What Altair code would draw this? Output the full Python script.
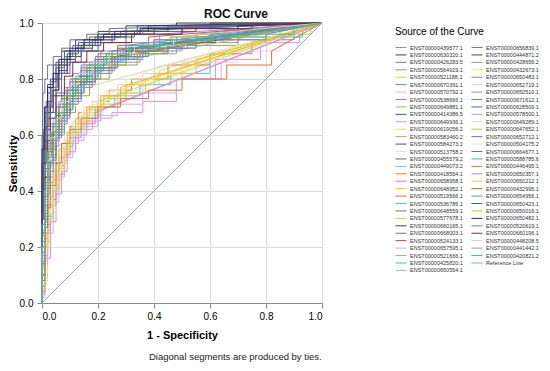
import altair as alt
import pandas as pd

TITLE = "ROC Curve"
X_TITLE = "1 - Specificity"
Y_TITLE = "Sensitivity"
LEGEND_TITLE = "Source of the Curve"
FOOTNOTE = "Diagonal segments are produced by ties."
TICKS = [0.0, 0.2, 0.4, 0.6, 0.8, 1.0]

NAMES_COL1 = [
    "ENST00000439577.1", "ENST00000630320.1", "ENST00000426283.5", "ENST00000564919.1",
    "ENST00000521188.1", "ENST00000670391.1", "ENST00000570792.1", "ENST00000538666.1",
    "ENST00000649881.1", "ENST00000414386.5", "ENST00000649936.1", "ENST00000619056.2",
    "ENST00000583460.2", "ENST00000584273.1", "ENST00000513758.2", "ENST00000455579.2",
    "ENST00000449073.2", "ENST00000418554.1", "ENST00000658958.1", "ENST00000648952.1",
    "ENST00000519566.1", "ENST00000536786.1", "ENST00000648559.1", "ENST00000577678.1",
    "ENST00000660165.1", "ENST00000668003.1", "ENST00000524133.1", "ENST00000657595.1",
    "ENST00000521666.1", "ENST00000425820.1", "ENST00000650554.1",
]
NAMES_COL2 = [
    "ENST00000656839.1", "ENST00000444871.2", "ENST00000428656.2", "ENST00000432673.1",
    "ENST00000650483.1", "ENST00000652719.1", "ENST00000650510.1", "ENST00000671612.1",
    "ENST00000628509.1", "ENST00000578500.1", "ENST00000649289.1", "ENST00000647652.1",
    "ENST00000652712.1", "ENST00000504175.2", "ENST00000664677.1", "ENST00000588785.6",
    "ENST00000446495.1", "ENST00000650357.1", "ENST00000650212.1", "ENST00000432995.1",
    "ENST00000654956.1", "ENST00000650423.1", "ENST00000650016.1", "ENST00000650482.1",
    "ENST00000520619.1", "ENST00000660196.1", "ENST00000448208.5", "ENST00000441442.1",
    "ENST00000420821.2",
]
REF_NAME = "Reference Line"

COLORS_COL1 = [
    "#7f8fe8", "#4a4040", "#8a7a66", "#a09a30", "#c8e040", "#4f8fc0", "#f5b0d8", "#a070e0",
    "#80c860", "#4050b0", "#e090e0", "#e0d880", "#c0a050", "#604090", "#c8f0f0", "#606868",
    "#50d8d0", "#e08030", "#f070d0", "#e8d030", "#e07050", "#50c8f8", "#707850", "#f0c030",
    "#303878", "#707088", "#a05040", "#d0b0f8", "#a8a8a8", "#30c8b0", "#90c0f8",
]
COLORS_COL2 = [
    "#c06060", "#405040", "#a0a060", "#f0f060", "#6090d0", "#f8c8e4", "#9080e8", "#50b040",
    "#6060c0", "#e090c8", "#d8d8a0", "#d0b860", "#8060b0", "#e4e4d0", "#707070", "#40b8a0",
    "#e07040", "#b080f0", "#f0c840", "#907030", "#40a0d8", "#506050", "#e0b830", "#202880",
    "#808098", "#803030", "#d0d0d0", "#989898", "#40c080",
]
REF_COLOR = "#7fa8d8"

# each token "x:y" = at 1-specificity x the curve rises to sensitivity y;
# a leading "d" marks a diagonal (tied) segment
CURVES_COL1 = [
    "0:.15 .01:.35 .02:.48 .03:.56 .05:.63 .07:.7 .1:.76 .14:.81 .2:.86 .28:.9 .4:.93 .6:.96 d1:1",
    "0:.4 .005:.6 .01:.7 .02:.78 .04:.85 .07:.9 .12:.94 .2:.97 .3:.99 .48:1",
    "0:.2 .01:.38 .02:.5 .04:.6 .06:.67 .09:.73 .13:.79 .18:.84 .25:.88 .35:.91 d1:1",
    "0:.1 .01:.3 .02:.43 .03:.53 .05:.62 .08:.69 .11:.75 .15:.8 .21:.85 .3:.89 .45:.93 .7:.96 d1:1",
    "0:.05 .01:.2 .02:.3 .03:.38 .04:.45 .06:.52 .08:.58 .11:.63 .15:.68 .2:.72 d1:1",
    "0:.25 .01:.42 .02:.53 .03:.6 .05:.67 .07:.73 .1:.78 .14:.83 .2:.87 .29:.9 d1:1",
    "0:.1 .01:.22 .02:.32 .04:.41 .06:.49 .08:.56 .11:.62 .15:.67 .2:.71 .27:.75 .36:.79 d1:1",
    "0:.12 .01:.33 .02:.45 .04:.56 .06:.64 .09:.71 .12:.77 .17:.82 .24:.87 .33:.91 .5:.94 .9:.97 d1:1",
    "0:.3 .01:.46 .02:.56 .03:.63 .05:.7 .08:.76 .12:.81 .17:.86 .24:.9 .36:.93 .55:.96 d1:1",
    "0:.5 .01:.68 .02:.75 .03:.8 .05:.86 .08:.9 .13:.93 .2:.96 .34:.99 d1:1",
    "0:.03 .01:.15 .02:.26 .03:.35 .05:.44 .07:.51 .09:.57 .13:.62 .18:.66 .25:.68 .36:.72 .48:.8 .62:.87 .78:.93 .92:.97 d1:1",
    "0:.08 .02:.25 .03:.35 .05:.44 .07:.52 .1:.59 .13:.64 .17:.69 .22:.73 .3:.78 .42:.83 d1:1",
    "0:.18 .01:.36 .02:.48 .03:.57 .05:.65 .08:.72 .12:.78 .16:.83 .22:.87 d1:1",
    "0:.3 .01:.55 .02:.66 .03:.74 .05:.8 .07:.85 .1:.9 .15:.93 .25:.96 .4:.98 d1:1",
    "0:.05 .01:.18 .02:.3 .04:.4 .06:.48 .08:.55 .12:.61 .16:.66 .22:.7 .28:.74 d1:1",
    "0:.45 .005:.62 .015:.72 .03:.79 .05:.84 .08:.88 .11:.92 .17:.95 .28:.97 d1:1",
    "0:.08 .01:.28 .02:.42 .03:.52 .05:.6 .07:.67 .1:.73 .13:.79 .18:.84 .25:.88 .36:.92 .55:.95 .85:.97 d1:1",
    "0:.12 .01:.25 .02:.35 .03:.43 .05:.5 .07:.57 .1:.63 .13:.68 .18:.72 .24:.76 .32:.8 .45:.85 .6:.89 .75:.93 d1:1",
    "0:.04 .01:.17 .02:.28 .03:.37 .05:.46 .08:.53 .1:.59 .14:.64 .19:.68 d1:1",
    "0:.09 .01:.22 .03:.33 .04:.42 .06:.5 .09:.57 .12:.62 .16:.67 .21:.71 .28:.75 .37:.8 .5:.85 d1:1",
    "0:.22 .01:.4 .02:.52 .035:.61 .05:.68 .08:.74 .11:.8 .16:.85 .23:.89 .32:.92 .48:.95 d1:1",
    "0:.06 .01:.2 .02:.31 .04:.41 .06:.49 .08:.56 .11:.61 .14:.66 .19:.7 .26:.74 .35:.78 .46:.82 .6:.87 d1:1",
    "0:.14 .01:.32 .02:.45 .03:.55 .05:.62 .07:.68 .1:.74 .14:.79 .19:.84 .26:.88 d1:1",
    "0:.1 .01:.24 .02:.34 .04:.44 .06:.52 .09:.58 .12:.64 .16:.69 .22:.73 .3:.77 d1:1",
    "0:.2 .01:.5 .02:.62 .03:.7 .04:.76 .06:.82 .09:.87 .12:.91 .18:.94 .26:.97 .38:.99 d1:1",
    "0:.6 .003:.75 .01:.8 .02:.85 .04:.88 .07:.91 .1:.94 .16:.96 .24:.98 d1:1",
    "0:.28 .01:.45 .02:.55 .04:.64 .06:.71 .09:.77 .13:.82 .19:.87 .27:.91 .4:.94 .65:.97 d1:1",
    "0:.02 .01:.14 .02:.25 .04:.36 .06:.45 .08:.52 .11:.58 .15:.63 .2:.67 .27:.71 .36:.75 .48:.8 .64:.86 d1:1",
    "0:.1 .01:.27 .02:.4 .03:.5 .04:.58 .06:.65 .09:.72 .13:.78 .18:.83 .25:.87 .34:.9 .5:.93 d1:1",
    "0:.2 .01:.37 .02:.49 .04:.59 .06:.66 .08:.72 .11:.77 .15:.82 .21:.86 .3:.9 .42:.93 .6:.95 .93:.97 d1:1",
    "0:.16 .01:.34 .02:.46 .03:.55 .05:.63 .08:.7 .11:.76 .15:.81 .2:.85 d1:1",
]
CURVES_COL2 = [
    "0:.24 .01:.41 .02:.52 .03:.6 .05:.67 .07:.73 .1:.79 .14:.84 .19:.88 .27:.92 .38:.95 d1:1",
    "0:.35 .01:.58 .02:.68 .04:.76 .06:.83 .09:.88 .14:.92 .21:.95 .3:.97 .45:.99 .6:1",
    "0:.12 .01:.3 .02:.43 .03:.52 .05:.6 .08:.68 .12:.74 .17:.8 .24:.85 .34:.89 .48:.92 .7:.95 d1:1",
    "0:.07 .01:.21 .02:.32 .03:.41 .05:.49 .07:.56 .1:.62 .14:.67 .18:.71 .24:.75 d1:1",
    "0:.3 .01:.47 .02:.57 .03:.64 .05:.7 .07:.75 .1:.8 .14:.85 .2:.89 .3:.92 d1:1",
    "0:.12 .01:.26 .02:.37 .04:.46 .06:.54 .08:.6 .11:.65 .15:.7 .2:.74 .27:.78 .36:.82 .5:.86 .7:.9 .85:.94 d1:1",
    "0:.06 .01:.25 .02:.39 .03:.5 .05:.59 .07:.66 .1:.72 .14:.78 .19:.83 .26:.87 .36:.91 .52:.94 d1:1",
    "0:.18 .01:.38 .02:.5 .04:.6 .06:.68 .09:.74 .12:.79 .16:.84 .22:.88 .32:.92 .46:.95 .72:.97 d1:1",
    "0:.25 .01:.48 .02:.6 .03:.68 .05:.75 .07:.82 .1:.86 .14:.9 .2:.93 .3:.96 .5:.98 d1:1",
    "0:.04 .01:.16 .03:.29 .05:.39 .07:.47 .09:.54 .12:.6 .16:.65 .21:.69 d1:1",
    "0:.2 .01:.36 .02:.47 .03:.56 .05:.64 .08:.7 .12:.76 d1:1",
    "0:.15 .01:.33 .02:.46 .03:.56 .05:.64 .07:.7 .1:.75 .13:.8 .18:.85 .25:.89 .35:.92 .5:.95 .88:.96 .96:.98 d1:1",
    "0:.4 .01:.6 .02:.7 .035:.77 .055:.82 .08:.86 .12:.9 .18:.94 .26:.96 .36:.98 d1:1",
    "0:.08 .01:.21 .02:.33 .04:.43 .06:.51 .08:.58 .11:.63 .14:.68 .18:.72 .23:.76 .3:.8 .4:.84 d1:1",
    "0:.26 .01:.43 .02:.54 .04:.63 .06:.7 .09:.76 .13:.81 .18:.86 .25:.9 d1:1",
    "0:.1 .01:.29 .02:.42 .03:.52 .05:.61 .08:.69 .11:.75 .15:.8 .2:.84 .27:.88 .37:.91 d1:1",
    "0:.1 .01:.23 .02:.34 .03:.42 .05:.5 .07:.57 .1:.62 .14:.66 .2:.7 .28:.73 .38:.76 .5:.8 .66:.85 .82:.9 d1:1",
    "0:.32 .01:.49 .02:.58 .04:.66 .06:.72 .08:.77 .11:.82 .15:.86 .21:.9 .3:.93 .42:.96 d1:1",
    "0:.05 .01:.19 .02:.3 .04:.4 .06:.48 .08:.54 .1:.6 .13:.65 .17:.7 .22:.74 .3:.78 .4:.82 .55:.87 d1:1",
    "0:.14 .01:.31 .02:.44 .03:.54 .04:.61 .06:.68 .09:.74 .12:.79 .16:.83 .22:.87 .3:.9 .45:.93 .62:.95 d1:1",
    "0:.22 .01:.39 .02:.5 .03:.58 .05:.66 .08:.72 .11:.78 .16:.83 .22:.87 .31:.91 d1:1",
    "0:.3 .005:.5 .015:.63 .025:.72 .04:.8 .06:.85 .09:.89 .13:.92 .19:.95 .33:.97 .55:.99 d1:1",
    "0:.13 .01:.27 .02:.38 .04:.47 .06:.55 .09:.61 .12:.66 .16:.7 .21:.74 .28:.77 d1:1",
    "0:.55 .01:.7 .02:.77 .04:.82 .06:.87 .1:.91 .15:.94 .22:.96 .35:.98 .7:.99 d1:1",
    "0:.08 .01:.27 .02:.41 .03:.51 .05:.6 .07:.67 .1:.73 .14:.79 .19:.84 .27:.88 .38:.91 .55:.94 .8:.96 d1:1",
    "0:.2 .01:.45 .02:.58 .03:.66 .05:.74 .08:.81 .11:.86 .16:.9 .22:.93 .32:.96 .5:.98 .75:.99 d1:1",
    "0:.2 .01:.4 .02:.51 .03:.59 .05:.66 .07:.72 .1:.78 .13:.82 .18:.86 .24:.89 .33:.92 .47:.95 d1:1",
    "0:.17 .01:.35 .02:.47 .04:.58 .06:.65 .09:.71 .13:.77 .18:.82 .25:.86 .35:.9 d1:1",
    "0:.28 .01:.44 .02:.54 .03:.61 .05:.68 .08:.74 .12:.8 .17:.85 .23:.89 .31:.92 .44:.94 .6:.96 .9:.98 d1:1",
]
REF_POINTS = "d1:1"


def expand(spec):
    pts = [(0.0, 0.0)]
    for tok in spec.split():
        diag = tok.startswith("d")
        if diag:
            tok = tok[1:]
        xs, ys = tok.split(":")
        x, y = float(xs), float(ys)
        px, py = pts[-1]
        if not diag and x != px:
            pts.append((x, py))
        pts.append((x, y))
    px, py = pts[-1]
    if px < 1.0:
        pts.append((1.0, py))
    if py < 1.0:
        pts.append((1.0, 1.0))
    return pts


rows = []
for name, spec in list(zip(NAMES_COL1, CURVES_COL1)) + list(zip(NAMES_COL2, CURVES_COL2)) + [(REF_NAME, REF_POINTS)]:
    for i, (x, y) in enumerate(expand(spec)):
        rows.append({"curve": name, "x": x, "y": y, "i": i})
df = pd.DataFrame(rows)

# legend fills column by column
domain = NAMES_COL1 + NAMES_COL2 + [REF_NAME]
rng = COLORS_COL1 + COLORS_COL2 + [REF_COLOR]

FONT = "Liberation Sans"

lines = alt.Chart(df).mark_line(strokeWidth=1, clip=False).encode(
    x=alt.X("x:Q", scale=alt.Scale(domain=[0, 1], nice=False, zero=False),
            axis=alt.Axis(values=TICKS, format=".1f", title=X_TITLE, labelPadding=3, titlePadding=8)),
    y=alt.Y("y:Q", scale=alt.Scale(domain=[0, 1], nice=False, zero=False),
            axis=alt.Axis(values=TICKS, format=".1f", title=Y_TITLE, labelPadding=4, titlePadding=1,
                          titleFontSize=11.5)),
    color=alt.Color("curve:N", scale=alt.Scale(domain=domain, range=rng), sort=domain,
                    legend=alt.Legend(title=LEGEND_TITLE, orient="none", legendX=353, legendY=4,
                                      columns=2, symbolType="stroke", symbolSize=121,
                                      symbolStrokeWidth=1, labelFontSize=5.5, labelOffset=3,
                                      clipHeight=7, rowPadding=0.43, columnPadding=8,
                                      symbolLimit=100,
                                      titleFontSize=10, titleFontWeight="normal", titlePadding=7,
                                      labelFont=FONT, titleFont=FONT, labelColor="#333",
                                      titleColor="#000", labelLimit=200)),
    order="i:Q",
)

note = alt.Chart(pd.DataFrame({"t": [FOOTNOTE]})).mark_text(
    align="left", baseline="middle", fontSize=9.5, font=FONT, color="#222"
).encode(x=alt.value(107), y=alt.value(334), text="t:N")

chart = alt.layer(lines, note).properties(
    width=280, height=280,
    title=alt.TitleParams(TITLE, fontSize=12, fontWeight="bold", font=FONT, anchor="middle",
                          offset=-3, dx=54, color="#111"),
    padding={"left": 34, "top": 15, "right": 220, "bottom": 60},
    autosize=alt.AutoSizeParams(type="none"),
).configure_view(stroke="#c0c0c0", strokeWidth=1).configure_axis(
    gridColor="#d4d4d4", domainColor="#a0a0a0", domainWidth=1.5, ticks=False,
    labelFontSize=9, labelColor="#333", labelFont=FONT, titleFont=FONT,
    titleFontSize=12, titleFontWeight="bold", titleColor="#111",
).configure(background="white")

chart.save("out.html", embed_options={"renderer": "svg", "actions": False})
